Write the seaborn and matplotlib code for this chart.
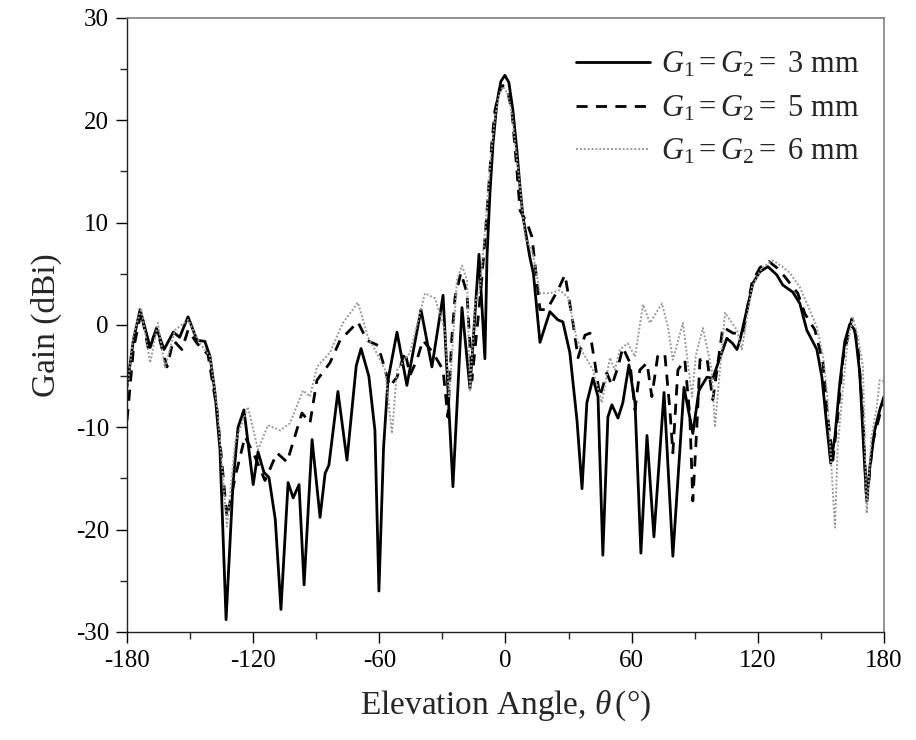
import numpy as np
import pandas as pd
import matplotlib
matplotlib.use("Agg")
import matplotlib.pyplot as plt
import seaborn as sns
from matplotlib.ticker import MultipleLocator

# ---------------- data ----------------
angle_3mm = [-180, -177, -173.8, -169, -166, -162.4, -158, -155, -151, -146.7, -143, -140.5, -138.2, -135.8,
             -132.9, -129.6, -127.2, -124.4, -120, -117.7, -114.9, -112.5, -109.5, -106.8, -103.4, -101, -98.2,
             -95.8, -92, -88.2, -85.8, -84, -79.7, -75.4, -71, -68.7, -65, -62.1, -60.2, -58, -55.9, -51.6,
             -46.9, -40.2, -35, -29.7, -25, -20.7, -16.9, -12.6, -9.8, -8.8, -7.4, -5.9, -4.1, -2.2, -0.3,
             1.6, 3.5, 5.4, 6.9, 8.3, 10.2, 11.6, 13.3,
             16.4, 21.1, 24.9, 27.3, 30.6, 34, 36.4, 38.7, 41.6, 44, 46.3, 48.7, 50.6, 53.5, 55.8, 58.7, 61.6,
             64.4, 67.3, 70.6, 75.4, 79.6, 84.9, 89.1, 92, 95.8, 98.6, 105.3, 108, 110.1, 111.5, 114.8, 117.7,
             121, 124.8, 129, 131.9, 136.7, 140, 143.3, 148.1, 150.5, 152.9, 154.7, 156.7, 159, 161.4, 163.8,
             166.2, 168.5, 170.4, 171.8, 173.3, 175.6, 178, 180]
gain_3mm = [-6, -1.5, 1.5, -2.2, -0.3, -2.4, -0.7, -1.2, 0.8, -1.5, -1.6, -3.1, -6.6, -12.2,
            -28.8, -15.5, -10, -8.3, -15.6, -12.4, -14.4, -14.9, -19, -27.8, -15.4, -16.9, -15.6,
            -25.4, -11.2, -18.8, -14.5, -13.7, -6.5, -13.2, -4, -2.3, -5, -10.3, -26, -12, -5.4, -0.7,
            -5.9, 1.5, -4.1, 2.9, -15.8, 1.7, -6.2, 6.9, -3.3, 6.6, 12.9, 17.8, 21.7, 23.8, 24.4,
            23.7, 21, 17.1, 13.5, 10.6, 8.3, 6.6, 5,
            -1.7, 1.3, 0.5, 0.3, -2.7, -9.3, -16, -7.6, -5.2, -7, -22.5, -9, -7.8, -9.1, -7.6, -3.9, -7.6,
            -22.3, -10.8, -20.7, -6.6, -22.6, -6.1, -10.6, -6.4, -5.1, -5.2, -1.3, -1.8, -2.4, -1.5, 1.5, 4.1,
            5.2, 5.7, 4.9, 3.9, 3.2, 2.1, -0.5, -2.4, -5.1, -10, -13.5, -10.9, -5.7, -1.6, 0.1,
            -0.5, -4.7, -12.2, -17.1, -13.9, -10.3, -8.3, -7]

angle_5mm = [-180, -177, -173.3, -170, -165.7, -161, -158, -153.9, -151, -146.7, -141.5, -137.2, -132.5,
             -128.6, -123.9, -119.1, -114.4, -108.7, -103.9, -96.8, -93, -89.7, -83.5, -78.7, -70.2, -65.9,
             -60.6, -55, -51.6, -47.8, -45.4, -42.1, -39.3, -34.5, -29.7, -27.4, -25.5, -24, -21.2, -18.3,
             -16, -13.1, -11.5, -9.8, -8.4, -6.5, -5, -3, -1.2, 1, 3, 5.4, 6.9, 10.2, 12.6, 14,
             16.4, 19.7, 24.9, 28.3, 32.1, 34.5, 37.8,
             40.2, 42.5, 44.9, 48.2, 50.6, 53.5, 55.8, 59.2, 61.6, 63.9, 67.3, 69.6, 72.5, 75.8, 78.2, 79.6,
             82, 85.3, 87.7, 89.1, 91, 92.5, 95.8, 98.6, 103.4, 108.2, 112.9, 117.2, 121, 125.3, 129, 132.9,
             139, 142.4, 147.2, 151, 152.9, 155.7, 158, 160.4, 164.7, 167.6, 170, 171.8, 174.6, 178.5, 180]
gain_5mm = [-9.3, -2.4, 1.3, -2.2, -0.5, -4.1, -1.5, -2.4, -0.5, -1.8, -2.9, -8.3, -18.8,
            -14.9, -10.9, -12.9, -15.2, -12.5, -13.4, -8.6, -9.6, -5.4, -3.7, -1.5, 0.3, -1.5,
            -2.0, -6, -5.1, -2.6, -4.9, -3.4, -1.5, -2.7, -4.4, -9, -1.2, 2.7, 5.1, 3.1,
            -5.4, 0.5, 4, 8.3, 12.2, 17.8, 21, 22.8, 23.4, 22.8, 21, 15.2, 11.2, 10, 8.6, 6,
            1.5, 1.5, 3.4, 4.9, 0.2, -3.2, -1,
            -0.8, -3.7, -7, -4.7, -5.9, -4.1, -2.2, -3.7, -8.3, -4.4, -3.7, -7, -2.9, -2.9, -8.3, -12.5,
            -4.4, -3.4, -9, -17.2, -10, -3.4, -3.2, -7.3, -0.2, -0.8, -0.8, 4.1, 5.6, 6.2, 5.6, 4.7,
            3.1, 1.1, -0.5, -3.7, -8.3, -13.2, -9, -3.4, 0.6, -2, -9, -17.4, -11.5, -8.4, -7.6]

angle_6mm = [-180, -177, -173.3, -169, -165.3, -162, -157.2, -151, -145.3, -140.5, -137, -132.5, -128.6,
             -122.5, -117.7, -113, -107.2, -102.5, -96.3, -93, -89.7, -83.5, -77.3, -70.2, -65.4, -62.1,
             -57.3, -54, -51.6, -45.4, -38.3, -33.5, -28.8, -26.8, -23.1, -20.7, -18.3, -16.9, -14.5, -12.1,
             -8.8, -7, -5, -3, -1.2, 1, 3, 5, 6.9, 9.3, 13, 16.4, 21.1, 25.9, 29.7, 34, 36.8, 41.6, 45.8,
             49.7, 52, 54.4, 58.2, 61.6, 65.4, 68.7, 74.4, 77.3, 79.6, 84.4, 88.7, 90.5, 93.9, 98.1, 99.6,
             104.4, 110.1, 112.4, 117.2, 122, 127.2, 131, 135.2, 140, 144, 148.1, 151, 152.9, 154.5, 156.7,
             158, 160, 162.5, 165.2, 167.5, 170, 171.8, 174, 176.6, 178, 180]
gain_6mm = [-6.5, -1, 1.6, -3.7, 0.2, -4.2, -0.5, 0.5, -1.8, -3.1, -8.3, -19.7, -11.5,
            -8, -12.2, -9.8, -10.3, -9.6, -6.4, -7, -4.1, -2.7, 0.2, 2.2, -1.2, -2.4,
            -4.4, -10.6, -4.4, -2.7, 3.1, 2.6, -0.5, -7, 4.4, 5.8, 4.4, -6.5, 2.1, 3.7,
            11.5, 16.5, 20.3, 22.5, 23.3, 22.6, 20.7, 17, 13.5, 8.6, 7, 3.1, 3.1, 3.4, 2.7, -1.5, -2.7, -4.4, -7.6,
            -3.2, -4.4, -2.4, -1.8, -3.1, 2.0, 0.2, 2.1, -0.2, -3.4, 0.2, -7, -3, -0.3, -4.4, -10,
            1.2, -0.5, -2.4, 3.7, 5.6, 6.3, 5.8, 5.1, 3.7, 1.8, -0.2, -3, -6.4, -12, -19.8,
            -12, -7.3, -2, 0.7, -1, -4.1, -18.4, -11, -8, -5.4, -5.5]

series_labels = [r"$G_1 = G_2 =$ 3 mm", r"$G_1 = G_2 =$ 5 mm", r"$G_1 = G_2 =$ 6 mm"]
x_ticks = [-180, -120, -60, 0, 60, 120, 180]
y_ticks = [-30, -20, -10, 0, 10, 20, 30]

# ---------------- style ----------------
sns.set_style("ticks")
plt.rcParams["font.family"] = ["Liberation Serif", "DejaVu Serif"]
plt.rcParams["mathtext.fontset"] = "custom"
plt.rcParams["mathtext.rm"] = "Liberation Serif"
plt.rcParams["mathtext.it"] = "Liberation Serif:italic"
plt.rcParams["mathtext.bf"] = "Liberation Serif:bold"

fig = plt.figure(figsize=(9.16, 7.4), dpi=100)
ax = fig.add_axes([0.1387, 0.146, 0.8263, 0.8297])

styles = [
    dict(color="black", linestyle="-", linewidth=2.0),
    dict(color="black", linestyle=(0, (4, 3)), linewidth=2.0),
    dict(color="#9a9a9a", linestyle=(0, (1, 1)), linewidth=1.4),
]
data = [(angle_3mm, gain_3mm), (angle_5mm, gain_5mm), (angle_6mm, gain_6mm)]
for (xs, ys), lab, st in zip(data, series_labels, styles):
    df = pd.DataFrame({"angle": xs, "gain": ys})
    sns.lineplot(data=df, x="angle", y="gain", ax=ax, label=lab, sort=False,
                 estimator=None, **st)

ax.set_xlim(-180, 180)
ax.set_ylim(-30, 30)
ax.set_xticks(x_ticks)
ax.set_yticks(y_ticks)
ax.set_xticklabels([str(v) for v in x_ticks])
ax.set_yticklabels([str(v) for v in y_ticks])
ax.xaxis.set_minor_locator(MultipleLocator(30))
ax.yaxis.set_minor_locator(MultipleLocator(5))
ax.tick_params(which="major", direction="out", length=8, width=1.0, labelsize=18, colors="black", pad=5)
ax.tick_params(which="minor", direction="out", length=5, width=1.0)
ax.tick_params(top=False, right=False, which="both")

for side in ["left", "bottom"]:
    ax.spines[side].set_color("#222222")
    ax.spines[side].set_linewidth(1.0)
for side in ["top", "right"]:
    ax.spines[side].set_visible(True)
    ax.spines[side].set_color("#808080")
    ax.spines[side].set_linewidth(1.2)

ax.set_xlabel(r"Elevation Angle, $\theta\,$(°)", fontsize=24, labelpad=12)
ax.set_ylabel("Gain (dBi)", fontsize=24, labelpad=10)

leg = ax.legend(loc="upper right", frameon=False, fontsize=22, handlelength=2.45,
                handletextpad=0.33, labelspacing=0.45, borderaxespad=0.0,
                bbox_to_anchor=(0.983, 0.967))

fig.savefig("out.png", dpi=100)
